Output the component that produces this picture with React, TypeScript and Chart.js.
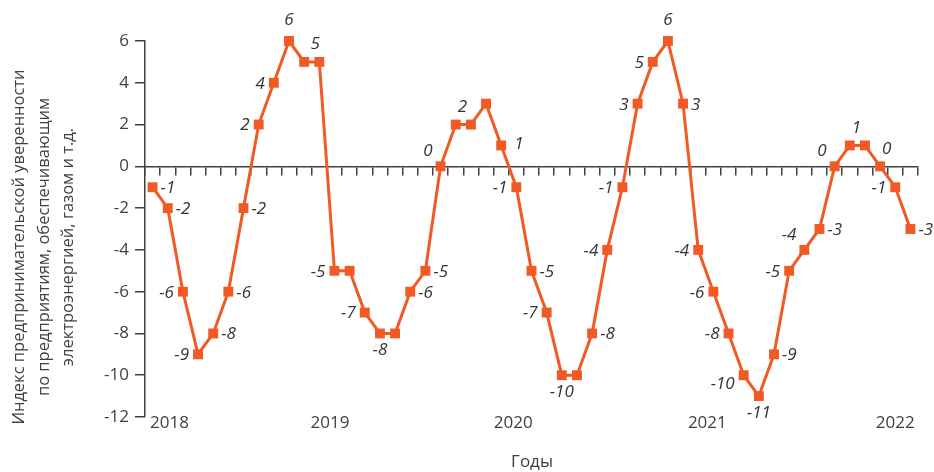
import React, { useEffect, useRef } from "react";
import { Chart, registerables } from "chart.js";

Chart.register(...registerables);

const categories: string[] = Array.from({ length: 51 }, (_, i) => `m${i + 1}`);

const values: number[] = [
  -1, -2, -6, -9, -8, -6, -2, 2, 4, 6, 5, 5,
  -5, -5, -7, -8, -8, -6, -5, 0, 2, 2, 3, 1,
  -1, -5, -7, -10, -10, -8, -4, -1, 3, 5, 6, 3,
  -4, -6, -8, -10, -11, -9, -5, -4, -3, 0, 1, 1,
  0, -1, -3,
];

// label placement per point ('' = no label)
const labelPlacement: string[] = [
  "r", "r", "l", "l", "r", "r", "r", "l", "l", "t", "", "tc",
  "l", "", "l", "b", "", "r", "r", "tl", "tr", "", "", "r2",
  "l", "r", "l", "b", "", "r", "l", "l", "l", "l", "t", "r",
  "l", "l", "l", "bl", "b", "r", "l", "tl", "r", "tl", "tr", "",
  "tr", "l", "r",
];

const yearLabels: string[] = ["2018", "2019", "2020", "2021", "2022"];
const yearPositions: number[] = [1.12, 11.7, 23.8, 36.6, 49.0];

const yTitle: string[] = [
  "Индекс предпринимательской уверенности",
  "по предприятиям, обеспечивающим",
  "электроэнергией, газом и т.д.",
];
const xTitle = "Годы";

const LINE_COLOR = "#F15A24";
const TEXT_COLOR = "#404040";
const FONT = "'Open Sans', 'Noto Sans', sans-serif";

const decorPlugin = {
  id: "decor",
  afterDatasetsDraw(chart: any) {
    const ctx = chart.ctx;
    const meta = chart.getDatasetMeta(0);
    ctx.save();
    ctx.font = `italic 17px ${FONT}`;
    ctx.fillStyle = "#333333";
    ctx.textBaseline = "middle";
    meta.data.forEach((pt: any, i: number) => {
      const p = labelPlacement[i];
      if (!p) return;
      const txt = String(values[i]);
      let x = pt.x;
      let y = pt.y;
      let align: CanvasTextAlign = "center";
      switch (p) {
        case "r": x += 8; y += 1; align = "left"; break;
        case "r2": x += 13; y -= 1; align = "left"; break;
        case "l": x -= 9; y += 1; align = "right"; break;
        case "t": y -= 21; break;
        case "tc": x -= 4; y -= 18; break;
        case "b": y += 17; break;
        case "tl": x -= 8; y -= 15; align = "right"; break;
        case "tr": x += 2; y -= 17; align = "left"; break;
        case "bl": x -= 9; y += 9; align = "right"; break;
      }
      ctx.textAlign = align;
      ctx.fillText(txt, x, y);
    });
    ctx.restore();
  },
  afterDraw(chart: any) {
    const ctx = chart.ctx;
    const xs = chart.scales.x;
    const area = chart.chartArea;
    ctx.save();
    ctx.fillStyle = TEXT_COLOR;
    ctx.font = `17px ${FONT}`;
    ctx.textAlign = "center";
    ctx.textBaseline = "middle";
    yearLabels.forEach((lab, i) => {
      ctx.fillText(lab, xs.getPixelForValue(yearPositions[i]), area.bottom + 6);
    });
    ctx.fillText(xTitle, 532, 462);
    ctx.font = `16.5px ${FONT}`;
    ctx.translate(44, (area.top + area.bottom) / 2 + 18);
    ctx.rotate(-Math.PI / 2);
    yTitle.forEach((line, i) => {
      ctx.fillText(line, 0, (i - 1) * 24.5);
    });
    ctx.restore();
  },
};

export default function App() {
  const ref = useRef<HTMLCanvasElement | null>(null);
  useEffect(() => {
    if (!ref.current) return;
    const chart = new Chart(ref.current, {
      type: "line",
      data: {
        labels: categories,
        datasets: [
          {
            data: values,
            borderColor: LINE_COLOR,
            backgroundColor: LINE_COLOR,
            borderWidth: 3,
            pointStyle: "rect",
            pointRadius: 7,
            pointBorderWidth: 0,
            pointBackgroundColor: LINE_COLOR,
            tension: 0,
            clip: false as any,
          },
        ],
      },
      options: {
        animation: false,
        responsive: false,
        maintainAspectRatio: false,
        layout: { padding: { left: 0, top: 41, right: 16, bottom: 55 } },
        plugins: {
          legend: { display: false },
          tooltip: { enabled: false },
        },
        scales: {
          x: {
            type: "category",
            position: { y: 0 } as any,
            offset: true,
            grid: {
              offset: true,
              drawOnChartArea: false,
              drawTicks: true,
              tickLength: 8,
              color: TEXT_COLOR,
              lineWidth: 1.5,
            },
            border: { display: true, color: TEXT_COLOR, width: 1.5 },
            ticks: { display: false },
          },
          y: {
            min: -12,
            max: 6,
            position: "left",
            afterFit: (s: any) => {
              s.width = 145;
            },
            grid: {
              drawOnChartArea: false,
              drawTicks: true,
              tickLength: 10,
              color: TEXT_COLOR,
              lineWidth: 1.5,
            },
            border: { display: true, color: TEXT_COLOR, width: 1.5 },
            ticks: {
              stepSize: 2,
              padding: 6,
              color: TEXT_COLOR,
              font: { family: FONT, size: 17 },
            },
          },
        },
      },
      plugins: [decorPlugin],
    });
    return () => chart.destroy();
  }, []);
  return (
    <div style={{ position: "fixed", left: 0, top: 0, width: 934, height: 472 }}>
      <canvas ref={ref} width={934} height={472} style={{ width: 934, height: 472, display: "block" }} />
    </div>
  );
}
